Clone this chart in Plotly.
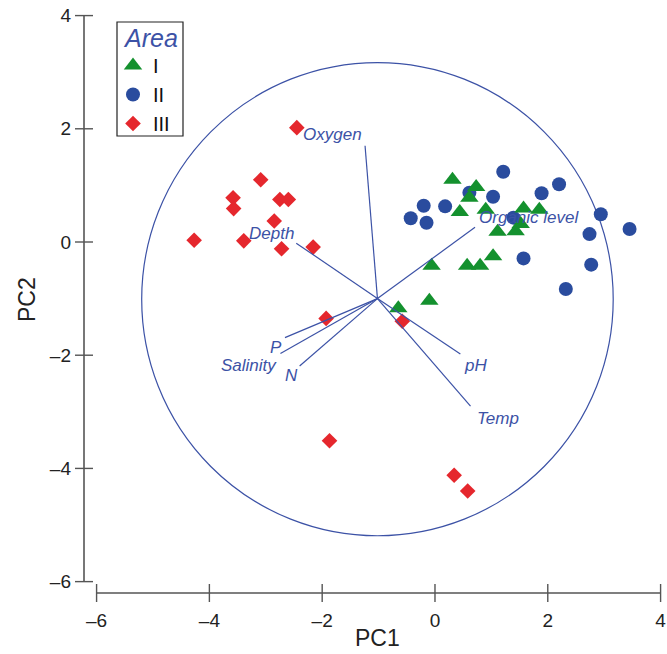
import plotly.graph_objects as go

# ---------------- data ----------------
area_I_x = [0.31, 0.73, 0.61, 0.44, 0.90, 1.57, 1.85, 1.11, 1.43, 1.52, 1.03, 0.57, 0.80, -0.06, -0.10, -0.65]
area_I_y = [1.10, 0.97, 0.78, 0.53, 0.57, 0.59, 0.57, 0.18, 0.19, 0.32, -0.25, -0.42, -0.42, -0.42, -1.04, -1.17]

area_II_x = [1.21, 2.20, 1.89, 1.03, 0.61, 0.18, -0.20, -0.43, -0.15, 2.94, 3.45, 2.74, 1.39, 1.57, 2.77, 2.32]
area_II_y = [1.24, 1.02, 0.86, 0.80, 0.87, 0.63, 0.64, 0.42, 0.34, 0.49, 0.23, 0.14, 0.43, -0.29, -0.40, -0.83]

area_III_x = [-2.45, -3.09, -3.58, -3.57, -2.75, -2.60, -2.85, -4.27, -3.39, -2.72, -2.16, -1.93, -0.58, -1.87, 0.34, 0.58]
area_III_y = [2.02, 1.10, 0.78, 0.59, 0.75, 0.75, 0.37, 0.03, 0.02, -0.12, -0.09, -1.35, -1.40, -3.51, -4.12, -4.40]

loading_names = ["Oxygen", "Depth", "Organic level", "pH", "Temp", "P", "Salinity", "N"]
loading_x = [-1.24, -2.46, 0.71, 0.45, 0.63, -2.66, -2.74, -2.40]
loading_y = [1.70, -0.02, 0.26, -1.98, -2.90, -1.69, -1.97, -2.19]
loading_origin = (-1.02, -1.00)

circle_center = (-1.02, -1.01)
circle_radius = 4.18

x_ticks = [-6, -4, -2, 0, 2, 4]
y_ticks = [-6, -4, -2, 0, 2, 4]

# ---------------- styles ----------------
GREEN = "#14912e"
BLUE_PT = "#2a4c9e"
RED = "#e5272d"
BLUE_LN = "#3c52a6"
AXIS = "#555555"
FONT = "Liberation Sans, Arial, Helvetica, sans-serif"

# label offsets (pixels) for loading names
label_shift = {
    "Oxygen": (-33, 11), "Depth": (-25, 10), "Organic level": (54, 10), "pH": (15, -11),
    "Temp": (27, -12), "P": (-9, -10), "Salinity": (-31, -12), "N": (-8, -10),
}

W_PLOT, H_PLOT = 582, 588
L_M, T_M = 84, 5


def px_x(p):
    return (p - L_M) / W_PLOT


def px_y(p):
    return (T_M + H_PLOT - p) / H_PLOT


fig = go.Figure()

fig.add_trace(go.Scatter(
    x=area_II_x, y=area_II_y, mode="markers", name="II", legendrank=2,
    marker=dict(symbol="circle", size=14, color=BLUE_PT, line=dict(width=0)),
))
fig.add_trace(go.Scatter(
    x=area_I_x, y=area_I_y, mode="markers", name="I", legendrank=1,
    marker=dict(symbol="triangle-up", size=16, color=GREEN, line=dict(width=0)),
))
fig.add_trace(go.Scatter(
    x=area_III_x, y=area_III_y, mode="markers", name="III", legendrank=3,
    marker=dict(symbol="diamond", size=12, color=RED, line=dict(width=0)),
))

# loading vectors
lx, ly = [], []
for ex, ey in zip(loading_x, loading_y):
    lx += [loading_origin[0], ex, None]
    ly += [loading_origin[1], ey, None]
fig.add_trace(go.Scatter(x=lx, y=ly, mode="lines", showlegend=False,
                         line=dict(color=BLUE_LN, width=1.2), hoverinfo="skip"))

for name, ex, ey in zip(loading_names, loading_x, loading_y):
    sx, sy = label_shift[name]
    fig.add_annotation(x=ex, y=ey, text="<i>%s</i>" % name, showarrow=False,
                       xshift=sx, yshift=sy, font=dict(family=FONT, size=17, color=BLUE_LN))

shapes = []
# correlation circle
shapes.append(dict(type="circle", xref="x", yref="y",
                   x0=circle_center[0] - circle_radius, x1=circle_center[0] + circle_radius,
                   y0=circle_center[1] - circle_radius, y1=circle_center[1] + circle_radius,
                   line=dict(color=BLUE_LN, width=1.2), layer="below"))
# axis lines (range-frame style)
shapes.append(dict(type="line", xref="x", yref="paper", x0=x_ticks[0], x1=x_ticks[-1], y0=0, y1=0,
                   line=dict(color=AXIS, width=1.6)))
shapes.append(dict(type="line", xref="paper", yref="y", x0=0, x1=0, y0=y_ticks[0], y1=y_ticks[-1],
                   line=dict(color=AXIS, width=1.6)))
# crossing ticks
for t in x_ticks:
    shapes.append(dict(type="line", xref="x", yref="paper", x0=t, x1=t,
                       y0=-9 / H_PLOT, y1=9 / H_PLOT, line=dict(color=AXIS, width=1.4)))
for t in y_ticks:
    shapes.append(dict(type="line", xref="paper", yref="y", x0=-9 / W_PLOT, x1=9 / W_PLOT,
                       y0=t, y1=t, line=dict(color=AXIS, width=1.4)))
# legend frame
shapes.append(dict(type="rect", xref="paper", yref="paper",
                   x0=px_x(117), x1=px_x(183), y0=px_y(136), y1=px_y(22),
                   line=dict(color="#222222", width=1.2), fillcolor="rgba(0,0,0,0)"))

fig.update_layout(
    width=667, height=654,
    margin=dict(l=L_M, r=1, t=T_M, b=61),
    paper_bgcolor="white", plot_bgcolor="white",
    shapes=shapes,
    font=dict(family=FONT, color="#222222"),
    xaxis=dict(range=[-6.223, 4.096], showgrid=False, zeroline=False, showline=False,
               tickvals=x_ticks, ticktext=["\u2013" + str(-t) if t < 0 else str(t) for t in x_ticks],
               ticks="", ticklabelstandoff=14, tickfont=dict(size=19, color="#222222")),
    yaxis=dict(range=[-6.201, 4.187], showgrid=False, zeroline=False, showline=False,
               tickvals=y_ticks, ticktext=["\u2013" + str(-t) if t < 0 else str(t) for t in y_ticks],
               ticks="", ticklabelstandoff=12, tickfont=dict(size=19, color="#222222")),
    showlegend=True,
    legend=dict(x=px_x(113), y=px_y(46), xanchor="left", yanchor="top",
                borderwidth=0, bgcolor="rgba(0,0,0,0)",
                font=dict(family=FONT, size=20, color="#111111"),
                itemwidth=30, tracegroupgap=0),
)

# legend title
fig.add_annotation(xref="paper", yref="paper", x=px_x(150), y=px_y(38),
                   text="<i>Area</i>", showarrow=False, xanchor="center", yanchor="middle",
                   font=dict(family=FONT, size=25, color=BLUE_LN))
fig.add_annotation(xref="paper", yref="paper", x=px_x(377), y=px_y(638),
                   text="PC1", showarrow=False, xanchor="center", yanchor="middle",
                   font=dict(family=FONT, size=23, color="#222222"))
fig.add_annotation(xref="paper", yref="paper", x=px_x(27), y=px_y(300),
                   text="PC2", showarrow=False, xanchor="center", yanchor="middle", textangle=-90,
                   font=dict(family=FONT, size=23, color="#222222"))

fig.write_html("out.html")
